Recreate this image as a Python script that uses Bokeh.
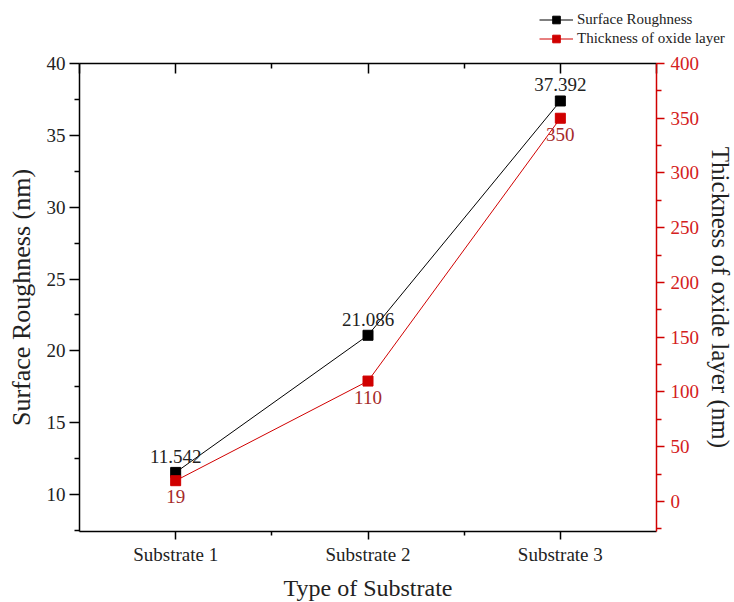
from bokeh.plotting import figure
from bokeh.models import (Range1d, LinearAxis, FixedTicker, Legend, LegendItem)
from bokeh.embed import file_html
from bokeh.resources import INLINE
from bokeh.core.properties import value

categories = ["Substrate 1", "Substrate 2", "Substrate 3"]
roughness = [11.542, 21.086, 37.392]
thickness = [19, 110, 350]
roughness_labels = ["11.542", "21.086", "37.392"]
thickness_labels = ["19", "110", "350"]
series_names = ["Surface Roughness", "Thickness of oxide layer"]
left_ticks = [10, 15, 20, 25, 30, 35, 40]
left_minor = [7.5, 12.5, 17.5, 22.5, 27.5, 32.5, 37.5]
right_ticks = [0, 50, 100, 150, 200, 250, 300, 350, 400]
right_minor = [-25, 25, 75, 125, 175, 225, 275, 325, 375]

x = list(range(1, len(categories) + 1))
x_minor = [1.5, 2.5]

FONT = "Liberation Serif"
RED = "#D00000"
DARKRED = "#A52A2A"
TXT = "#222222"

# legend strip (separate root, overlaid by the transparent main figure)
LG_H = 50
LG_TOP = 5
lg = figure(width=734, height=LG_H, x_range=Range1d(-2, -1), y_range=Range1d(-2, -1),
            x_axis_type=None, y_axis_type=None, output_backend="svg",
            toolbar_location=None, min_border=0)
lg.grid.visible = False
lg.outline_line_color = None
lg.background_fill_alpha = 0
lg.border_fill_alpha = 0
# legend-only copies of the series (out of this strip's view range)
ll1 = lg.line(x, roughness, line_color="black", line_width=1)
ls1 = lg.scatter(x, roughness, marker="square", size=10, color="black")
ll2 = lg.line(x, thickness, line_color=RED, line_width=1)
ls2 = lg.scatter(x, thickness, marker="square", size=10, color=RED)
legend = Legend(items=[LegendItem(label=series_names[0], renderers=[ll1, ls1]),
                       LegendItem(label=series_names[1], renderers=[ll2, ls2])],
                location="top_right", orientation="vertical",
                glyph_width=34, glyph_height=19, label_height=19, label_width=152,
                label_standoff=4, padding=5, spacing=0, margin=0,
                border_line_alpha=0, background_fill_alpha=0,
                label_text_font=FONT, label_text_font_size="15px",
                label_text_color=TXT)
lg.add_layout(legend, "center")
lg.margin = (LG_TOP, 0, 0, 0)

p = figure(frame_width=577, frame_height=468,
           x_range=Range1d(0.5, 3.5), y_range=Range1d(7.43, 40),
           output_backend="svg", toolbar_location=None,
           min_border_left=79, min_border_right=78,
           min_border_top=63, min_border_bottom=71)
p.extra_y_ranges = {"thk": Range1d(-27.4, 400)}
p.grid.visible = False
p.outline_line_color = None
p.background_fill_alpha = 0
p.border_fill_alpha = 0
p.margin = (-(LG_H + LG_TOP), 0, 0, 0)


def style_axis(ax, color="black"):
    ax.axis_line_width = 1.5
    ax.major_tick_line_width = 1.5
    ax.minor_tick_line_width = 1.5
    ax.axis_line_color = color
    ax.major_tick_line_color = color
    ax.minor_tick_line_color = color
    ax.major_label_text_font = FONT
    ax.major_label_text_font_size = "19px"
    ax.axis_label_text_font = FONT
    ax.axis_label_text_font_style = "normal"
    ax.axis_label_text_color = TXT


# bottom axis
xa = p.xaxis[0]
style_axis(xa)
xa.ticker = FixedTicker(ticks=x, minor_ticks=x_minor)
xa.major_label_overrides = {i: c for i, c in zip(x, categories)}
xa.major_tick_out = 8
xa.major_tick_in = 0
xa.minor_tick_out = 4
xa.minor_tick_in = 0
xa.major_label_text_color = TXT
xa.major_label_standoff = 4
xa.axis_label = "Type of Substrate"
xa.axis_label_text_font_size = "24px"
xa.axis_label_standoff = 7

# left axis
ya = p.yaxis[0]
style_axis(ya)
ya.ticker = FixedTicker(ticks=left_ticks, minor_ticks=left_minor)
ya.major_tick_out = 10
ya.major_tick_in = 0
ya.minor_tick_out = 5
ya.minor_tick_in = 0
ya.major_label_text_color = TXT
ya.major_label_standoff = 4
ya.axis_label = "Surface Roughness (nm)"
ya.axis_label_text_font_size = "26px"
ya.axis_label_standoff = 8

# right axis
ra = LinearAxis(y_range_name="thk",
                ticker=FixedTicker(ticks=right_ticks, minor_ticks=right_minor))
style_axis(ra, RED)
ra.major_tick_out = 8
ra.major_tick_in = 0
ra.minor_tick_out = 5
ra.minor_tick_in = 0
ra.major_label_text_color = "#D42020"
ra.major_label_standoff = 6
ra.axis_label = "Thickness of oxide layer (nm)"
ra.axis_label_text_font_size = "25px"
ra.axis_label_standoff = 5
p.add_layout(ra, "right")

# top axis (mirror, inward ticks, no labels)
ta = LinearAxis(ticker=FixedTicker(ticks=[0.5] + x + [3.5], minor_ticks=x_minor))
style_axis(ta)
ta.major_tick_in = 10
ta.major_tick_out = 0
ta.minor_tick_in = 5
ta.minor_tick_out = 0
ta.major_label_text_font_size = "0px"
ta.major_label_standoff = 0
p.add_layout(ta, "above")

# data
p.line(x, roughness, line_color="black", line_width=1)
p.scatter(x, roughness, marker="square", size=10, color="black")
p.line(x, thickness, y_range_name="thk", line_color=RED, line_width=1)
p.scatter(x, thickness, y_range_name="thk", marker="square", size=10, color=RED)

p.text(x=x, y=roughness, text=roughness_labels, text_align="center",
       text_baseline="alphabetic", y_offset=-16,
       text_font=value(FONT), text_font_size="19px", text_color=TXT)
p.text(x=x, y=thickness, text=thickness_labels, y_range_name="thk",
       text_align="center", text_baseline="alphabetic", y_offset=16,
       text_font=value(FONT), text_font_size="19px", text_color=DARKRED)

open("out.html", "w").write(file_html([lg, p], INLINE))
